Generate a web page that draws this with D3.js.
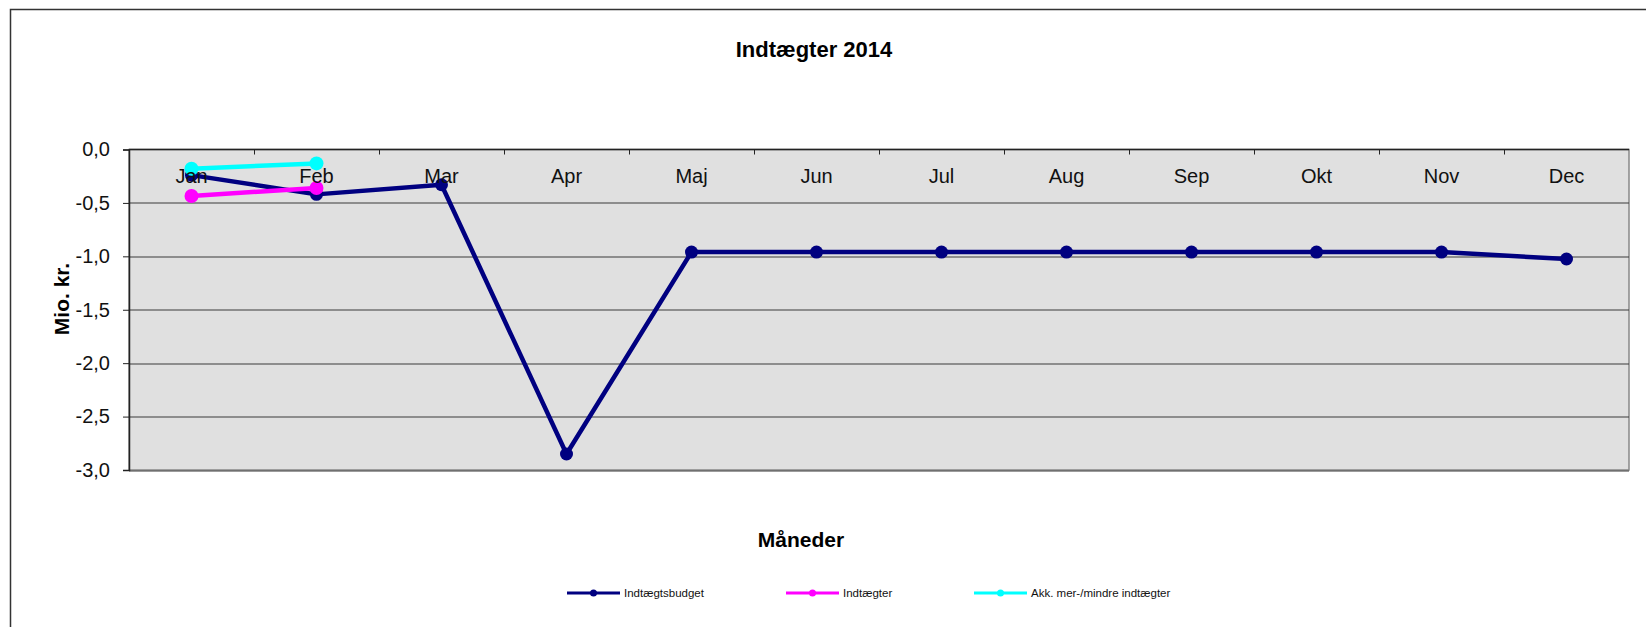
<!DOCTYPE html>
<html>
<head>
<meta charset="utf-8">
<script src="https://cdnjs.cloudflare.com/ajax/libs/d3/7.8.5/d3.min.js"></script>
<style>
    body { margin: 0; background: #fff; }
    svg { display: block; font-family: "Liberation Sans", Arial, sans-serif; }
</style>
</head>
<body>
<div id="vis"></div>
<script>
const months = ["Jan", "Feb", "Mar", "Apr", "Maj", "Jun", "Jul", "Aug", "Sep", "Okt", "Nov", "Dec"];
const budget = [-0.24, -0.42, -0.33, -2.85, -0.96, -0.96, -0.96, -0.96, -0.96, -0.96, -0.96, -1.025];
const indtaegter = [-0.435, -0.36];
const akkMerMindre = [-0.18, -0.13];
const yTicks = [0, -0.5, -1.0, -1.5, -2.0, -2.5, -3.0];

const seriesNames = ["Indtægtsbudget", "Indtægter", "Akk. mer-/mindre indtægter"];
const seriesColors = ["#000080", "#ff00ff", "#00ffff"];

var margin = { top: 149.5, right: 17, bottom: 157, left: 129 },
    width = 1646 - margin.left - margin.right,
    height = 627 - margin.top - margin.bottom;

const svg = d3.select("#vis")
    .append("svg")
    .attr("width", 1646)
    .attr("height", 627);

// outer chart frame (cut off at right/bottom like the original)
svg.append("rect")
    .attr("x", 10.5)
    .attr("y", 9.5)
    .attr("width", 1700)
    .attr("height", 700)
    .style("fill", "#fff")
    .style("stroke", "#333")
    .style("stroke-width", 1.5);

svg.append("text")
    .attr("x", 814)
    .attr("y", 56.5)
    .attr("text-anchor", "middle")
    .style("font-size", "22px")
    .style("font-weight", "bold")
    .text("Indtægter 2014");

const g = svg.append("g")
    .attr("transform", `translate(${margin.left}, ${margin.top})`);

const x = d3.scaleBand()
    .domain(months)
    .range([0, width]);

const y = d3.scaleLinear()
    .domain([0, -3])
    .range([0, height]);

const cx = d => x(d) + x.bandwidth() / 2;

// plot background
g.append("rect")
    .attr("width", width)
    .attr("height", height)
    .style("fill", "#e0e0e0")
    .style("stroke", "#888")
    .style("stroke-width", 1.5);

// gridlines
g.selectAll("line.grid")
    .data(yTicks.slice(1))
    .join("line")
    .attr("class", "grid")
    .attr("x1", 0)
    .attr("x2", width)
    .attr("y1", d => Math.round(y(d)) + 0.5)
    .attr("y2", d => Math.round(y(d)) + 0.5)
    .style("stroke", "#3a3a3a")
    .style("stroke-width", 1);

// y axis
const yAxis = d3.axisLeft(y)
    .tickValues(yTicks)
    .tickSize(6)
    .tickPadding(13)
    .tickFormat(d => (d < 0 ? "-" : "") + Math.abs(d).toFixed(1).replace(".", ","));

const yg = g.append("g").call(yAxis);
yg.select(".domain").style("stroke", "#222").style("stroke-width", 1.5);
yg.selectAll(".tick line").style("stroke", "#222");
yg.selectAll(".tick text")
    .style("font-size", "20px")
    .style("font-family", "'Liberation Sans', Arial, sans-serif")
    .attr("fill", "#111");

// category axis sits on the 0-line at the top, ticks between months
g.append("line")
    .attr("x1", 0).attr("x2", width)
    .attr("y1", y(0)).attr("y2", y(0))
    .style("stroke", "#222")
    .style("stroke-width", 1.5);

g.selectAll("line.xtick")
    .data(months.slice(1))
    .join("line")
    .attr("class", "xtick")
    .attr("x1", d => Math.round(x(d)) + 0.5)
    .attr("x2", d => Math.round(x(d)) + 0.5)
    .attr("y1", 0)
    .attr("y2", 5)
    .style("stroke", "#222");

// series
const line = d3.line()
    .x((d, i) => cx(months[i]))
    .y(d => y(d));

const allSeries = [budget, indtaegter, akkMerMindre];
const radii = [6.5, 7, 7];

allSeries.forEach((vals, s) => {
    g.append("path")
        .datum(vals)
        .attr("d", line)
        .style("fill", "none")
        .style("stroke", seriesColors[s])
        .style("stroke-width", 4.5)
        .style("stroke-linejoin", "round");

    g.selectAll("circle.s" + s)
        .data(vals)
        .join("circle")
        .attr("class", "s" + s)
        .attr("cx", (d, i) => cx(months[i]))
        .attr("cy", d => y(d))
        .attr("r", radii[s])
        .style("fill", seriesColors[s]);
});

// month labels drawn on top of the series
g.selectAll("text.month")
    .data(months)
    .join("text")
    .attr("class", "month")
    .attr("x", d => cx(d))
    .attr("y", 33.5)
    .attr("text-anchor", "middle")
    .style("font-size", "20px")
    .style("fill", "#111")
    .text(d => d);

// axis titles
svg.append("text")
    .attr("transform", "translate(69, 299) rotate(-90)")
    .attr("text-anchor", "middle")
    .style("font-size", "21px")
    .style("font-weight", "bold")
    .text("Mio. kr.");

svg.append("text")
    .attr("x", 801)
    .attr("y", 546.5)
    .attr("text-anchor", "middle")
    .style("font-size", "21px")
    .style("font-weight", "bold")
    .text("Måneder");

// legend
const legendX = [567, 786, 974];
const legend = svg.selectAll("g.legend")
    .data(seriesNames)
    .join("g")
    .attr("class", "legend")
    .attr("transform", (d, i) => `translate(${legendX[i]}, 593)`);

legend.append("line")
    .attr("x1", 0).attr("x2", 53)
    .attr("y1", 0).attr("y2", 0)
    .style("stroke", (d, i) => seriesColors[i])
    .style("stroke-width", 3);

legend.append("circle")
    .attr("cx", 26.5)
    .attr("r", 3.5)
    .style("fill", (d, i) => seriesColors[i]);

legend.append("text")
    .attr("x", 57)
    .attr("y", 4)
    .style("font-size", "11.5px")
    .style("fill", "#111")
    .text(d => d);
</script>
</body>
</html>
